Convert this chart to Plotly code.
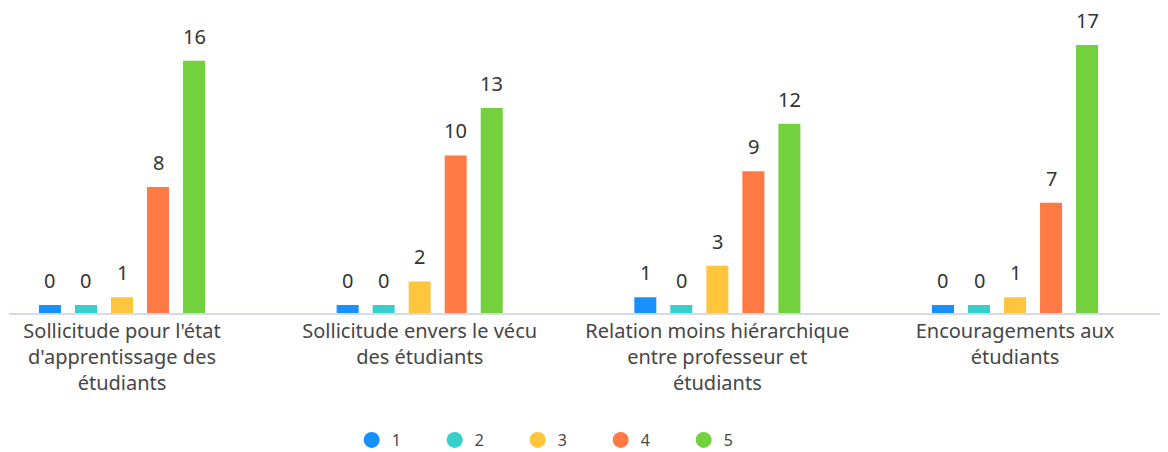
import plotly.graph_objects as go

# Categories and survey counts (score 1..5)
categories = [
    "Sollicitude pour l'état<br>d'apprentissage des<br>étudiants",
    "Sollicitude envers le vécu<br>des étudiants",
    "Relation moins hiérarchique<br>entre professeur et<br>étudiants",
    "Encouragements aux<br>étudiants",
]
series_names = ["1", "2", "3", "4", "5"]
score_1 = [0, 0, 1, 0]
score_2 = [0, 0, 0, 0]
score_3 = [1, 2, 3, 1]
score_4 = [8, 10, 9, 7]
score_5 = [16, 13, 12, 17]

series_values = [score_1, score_2, score_3, score_4, score_5]
colors = ["#1890FF", "#36CFC9", "#FFC53D", "#FF7A45", "#73D13D"]

# page body has an 8px margin, so the figure is a bit smaller than the window
W, H = 1160, 444
m_l, m_r, m_t, m_b = 1, 8, 12, 139
y_max = 18.59
bargap = 0.395
plot_h = H - m_t - m_b
# minimum visible bar height (like echarts barMinHeight), in data units
min_h = 8 / (plot_h / y_max)
slot = (1 - bargap) / len(series_names)

fig = go.Figure()
x_idx = list(range(len(categories)))

for k, (name, vals, col) in enumerate(zip(series_names, series_values, colors)):
    heights = [max(v, min_h) for v in vals]
    fig.add_trace(go.Bar(
        x=x_idx, y=heights,
        name=name, marker_color=col, marker_line_width=0,
        showlegend=False, legendgroup=name, hoverinfo='skip',
    ))
    # legend entry drawn as a circle
    fig.add_trace(go.Scatter(
        x=[None], y=[None], mode='markers', name=name, legendgroup=name,
        marker=dict(color=col, size=16, symbol='circle'),
    ))
    # value labels above the bars
    off = (k - (len(series_names) - 1) / 2) * slot
    for xi, h, v in zip(x_idx, heights, vals):
        fig.add_annotation(
            x=xi + off, y=h, text=str(v), showarrow=False,
            yanchor='bottom', yshift=9,
            font=dict(size=20, color='#333333'),
        )

fig.update_layout(
    width=W, height=H,
    margin=dict(l=m_l, r=m_r, t=m_t, b=m_b),
    paper_bgcolor='white', plot_bgcolor='white',
    font=dict(family='Noto Sans', size=16, color='#464646'),
    barmode='group', bargap=bargap, bargroupgap=0.389,
    xaxis=dict(
        tickvals=x_idx, ticktext=categories,
        range=[-0.3796, 3.487], showgrid=False, zeroline=False,
        showline=True, linecolor='#D5D9EC', linewidth=2,
        ticks='', tickfont=dict(size=20, color='#464646'),
        ticklabelstandoff=-1, automargin=False,
        fixedrange=True,
    ),
    yaxis=dict(range=[0, y_max], visible=False, fixedrange=True),
    legend=dict(
        orientation='h', x=0.478, xanchor='center',
        yref='container', y=0.027, yanchor='middle',
        font=dict(size=16, color='#464646'),
        entrywidth=38, entrywidthmode='pixels', itemclick=False,
    ),
)

fig.write_html("out.html")
